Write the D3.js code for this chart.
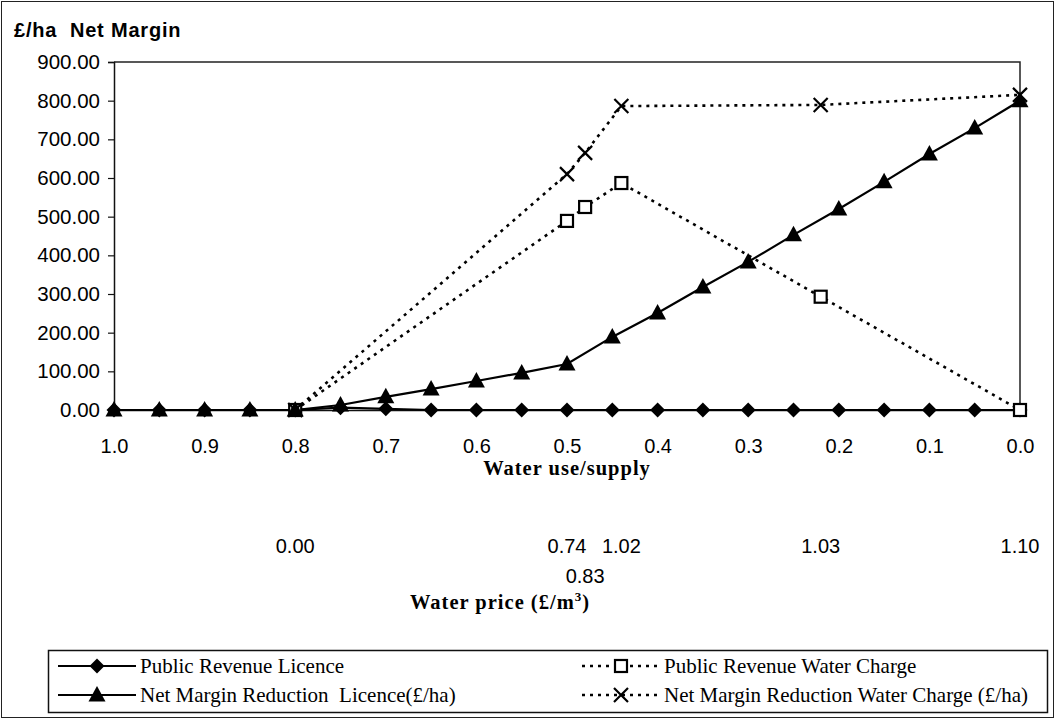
<!DOCTYPE html>
<html>
<head>
<meta charset="utf-8">
<script src="https://cdn.jsdelivr.net/npm/d3@7"></script>
<style>
  html, body { margin: 0; padding: 0; background: #fff; }
  svg { display: block; }
</style>
</head>
<body>
<svg id="chart" width="1056" height="720"></svg>
<script>
// Water use/supply ratio for the licence scenarios (0.05 steps)
const licenceRatio = [1.0, 0.95, 0.9, 0.85, 0.8, 0.75, 0.7, 0.65, 0.6, 0.55, 0.5,
                      0.45, 0.4, 0.35, 0.3, 0.25, 0.2, 0.15, 0.1, 0.05, 0.0];
const publicRevenueLicence = [0, 0, 0, 0, 0, 6, 3, 0, 0, 0, 0,
                              0, 0, 0, 0, 0, 0, 0, 0, 0, 0];
const netMarginLicence = [0, 0, 0, 0, 0, 13, 34, 54, 75, 96, 119,
                          189, 251, 318, 383, 453, 520, 590, 662, 729, 800];

// Water charge scenarios
const chargeRatio = [0.8, 0.5, 0.48, 0.44, 0.22, 0.0];
const waterPrice = ["0.00", "0.74", "0.83", "1.02", "1.03", "1.10"];
const publicRevenueCharge = [0, 489, 525, 587, 293, 0];
const netMarginCharge = [0, 610, 665, 786, 789, 815];

const yTicks = [0, 100, 200, 300, 400, 500, 600, 700, 800, 900];
const xTicks = [1.0, 0.9, 0.8, 0.7, 0.6, 0.5, 0.4, 0.3, 0.2, 0.1, 0.0];

const seriesNames = [
  "Public Revenue Licence",
  "Public Revenue Water Charge",
  "Net Margin Reduction  Licence(£/ha)",
  "Net Margin Reduction Water Charge (£/ha)"
];

const SANS = "'Liberation Sans', Arial, sans-serif";
const SERIF = "'Liberation Serif', 'Times New Roman', serif";

const svg = d3.select("#chart");
const plot = { left: 114, right: 1020, top: 62, bottom: 410 };

const x = d3.scaleLinear().domain([1.0, 0.0]).range([plot.left, plot.right]);
const y = d3.scaleLinear().domain([0, 900]).range([plot.bottom, plot.top]);

// outer frame
svg.append("rect").attr("x", 1.5).attr("y", 1.5).attr("width", 1052).attr("height", 716)
  .attr("fill", "none").attr("stroke", "#222").attr("stroke-width", 1);

// plot frame (top and right edges)
svg.append("path")
  .attr("d", `M${plot.left},${plot.top}H${plot.right}V${plot.bottom}`)
  .attr("fill", "none").attr("stroke", "#222").attr("stroke-width", 1.5);

// y axis
const yAxis = d3.axisLeft(y).tickValues(yTicks).tickSize(6).tickPadding(8)
  .tickFormat(d3.format(".2f"));
const gy = svg.append("g").attr("transform", `translate(${plot.left},0)`).call(yAxis);
gy.select(".domain").attr("stroke", "#111").attr("stroke-width", 1.5);
gy.selectAll(".tick line").attr("stroke", "#111").attr("stroke-width", 1.2);
gy.selectAll(".tick text").attr("font-family", SANS).attr("font-size", 20.5)
  .attr("fill", "#000");

// x axis
const xAxis = d3.axisBottom(x).tickValues(xTicks).tickSize(0).tickPadding(43)
  .tickFormat(d3.format(".1f"));
const gx = svg.append("g").attr("transform", `translate(0,${plot.bottom})`).call(xAxis);
gx.select(".domain").attr("stroke", "#111").attr("stroke-width", 1.5);
gx.selectAll(".tick text").attr("font-family", SANS).attr("font-size", 20)
  .attr("fill", "#000").attr("dy", "0");

// titles
svg.append("text").attr("x", 14).attr("y", 37)
  .attr("font-family", SANS).attr("font-weight", "bold").attr("font-size", 20)
  .attr("letter-spacing", 0.8)
  .attr("xml:space", "preserve").text("£/ha  Net Margin");

svg.append("text").attr("x", (plot.left + plot.right) / 2).attr("y", 475)
  .attr("text-anchor", "middle").attr("font-family", SERIF).attr("font-weight", "bold")
  .attr("font-size", 20.5).attr("letter-spacing", 1).text("Water use/supply");

// secondary labels: water price under each water-charge point
const priceRow = [0, 0, 1, 0, 0, 0];
svg.append("g").selectAll("text").data(chargeRatio).join("text")
  .attr("x", d => x(d))
  .attr("y", (d, i) => priceRow[i] ? 583 : 553)
  .attr("text-anchor", "middle").attr("font-family", SANS).attr("font-size", 20)
  .text((d, i) => waterPrice[i]);

const wp = svg.append("text").attr("x", 500).attr("y", 609)
  .attr("text-anchor", "middle").attr("font-family", SERIF).attr("font-weight", "bold")
  .attr("font-size", 20.5).attr("letter-spacing", 1);
wp.append("tspan").text("Water price (£/m");
wp.append("tspan").attr("dy", -8).attr("font-size", 13).text("3");
wp.append("tspan").attr("dy", 8).text(")");

// series
const line = d3.line().x(d => x(d[0])).y(d => y(d[1]));
const pairs = (xs, ys) => xs.map((v, i) => [v, ys[i]]);

const series = [
  { data: pairs(licenceRatio, publicRevenueLicence), dash: null, marker: "diamond" },
  { data: pairs(chargeRatio, publicRevenueCharge), dash: "3,5", marker: "square" },
  { data: pairs(licenceRatio, netMarginLicence), dash: null, marker: "triangle" },
  { data: pairs(chargeRatio, netMarginCharge), dash: "3,5", marker: "cross" }
];

function drawMarker(g, type, cx, cy) {
  if (type === "diamond") {
    g.append("path").attr("d", `M${cx},${cy - 7.5}L${cx + 7.5},${cy}L${cx},${cy + 7.5}L${cx - 7.5},${cy}Z`)
      .attr("fill", "#000");
  } else if (type === "triangle") {
    g.append("path").attr("d", `M${cx},${cy - 9}L${cx + 8.5},${cy + 6.5}L${cx - 8.5},${cy + 6.5}Z`)
      .attr("fill", "#000");
  } else if (type === "square") {
    g.append("rect").attr("x", cx - 6).attr("y", cy - 6).attr("width", 12).attr("height", 12)
      .attr("fill", "#fff").attr("stroke", "#000").attr("stroke-width", 2.2);
  } else if (type === "cross") {
    g.append("path").attr("d", `M${cx - 7},${cy - 7}L${cx + 7},${cy + 7}M${cx + 7},${cy - 7}L${cx - 7},${cy + 7}`)
      .attr("stroke", "#000").attr("stroke-width", 2.2).attr("fill", "none");
  }
}

const gs = svg.append("g");
series.forEach(s => {
  gs.append("path").datum(s.data).attr("d", line)
    .attr("fill", "none").attr("stroke", "#000").attr("stroke-width", s.dash ? 2.6 : 2.2)
    .attr("stroke-dasharray", s.dash);
});
series.forEach(s => {
  const g = gs.append("g");
  s.data.forEach(d => drawMarker(g, s.marker, x(d[0]), y(d[1])));
});

// legend
const lg = svg.append("g");
lg.append("rect").attr("x", 48.5).attr("y", 650.5).attr("width", 999).attr("height", 62)
  .attr("fill", "#fff").attr("stroke", "#111").attr("stroke-width", 1.5);
const legendPos = [
  { x0: 58, y: 666, s: 0 },
  { x0: 582, y: 666, s: 1 },
  { x0: 58, y: 695, s: 2 },
  { x0: 582, y: 695, s: 3 }
];
legendPos.forEach(p => {
  const s = series[p.s];
  lg.append("line").attr("x1", p.x0).attr("x2", p.x0 + 78).attr("y1", p.y).attr("y2", p.y)
    .attr("stroke", "#000").attr("stroke-width", s.dash ? 2.4 : 2.2)
    .attr("stroke-dasharray", s.dash);
  drawMarker(lg, s.marker, p.x0 + 39, p.y);
  lg.append("text").attr("x", p.x0 + 82).attr("y", p.y + 7)
    .attr("font-family", SERIF).attr("font-size", 21)
    .attr("xml:space", "preserve").text(seriesNames[p.s]);
});
</script>
</body>
</html>
